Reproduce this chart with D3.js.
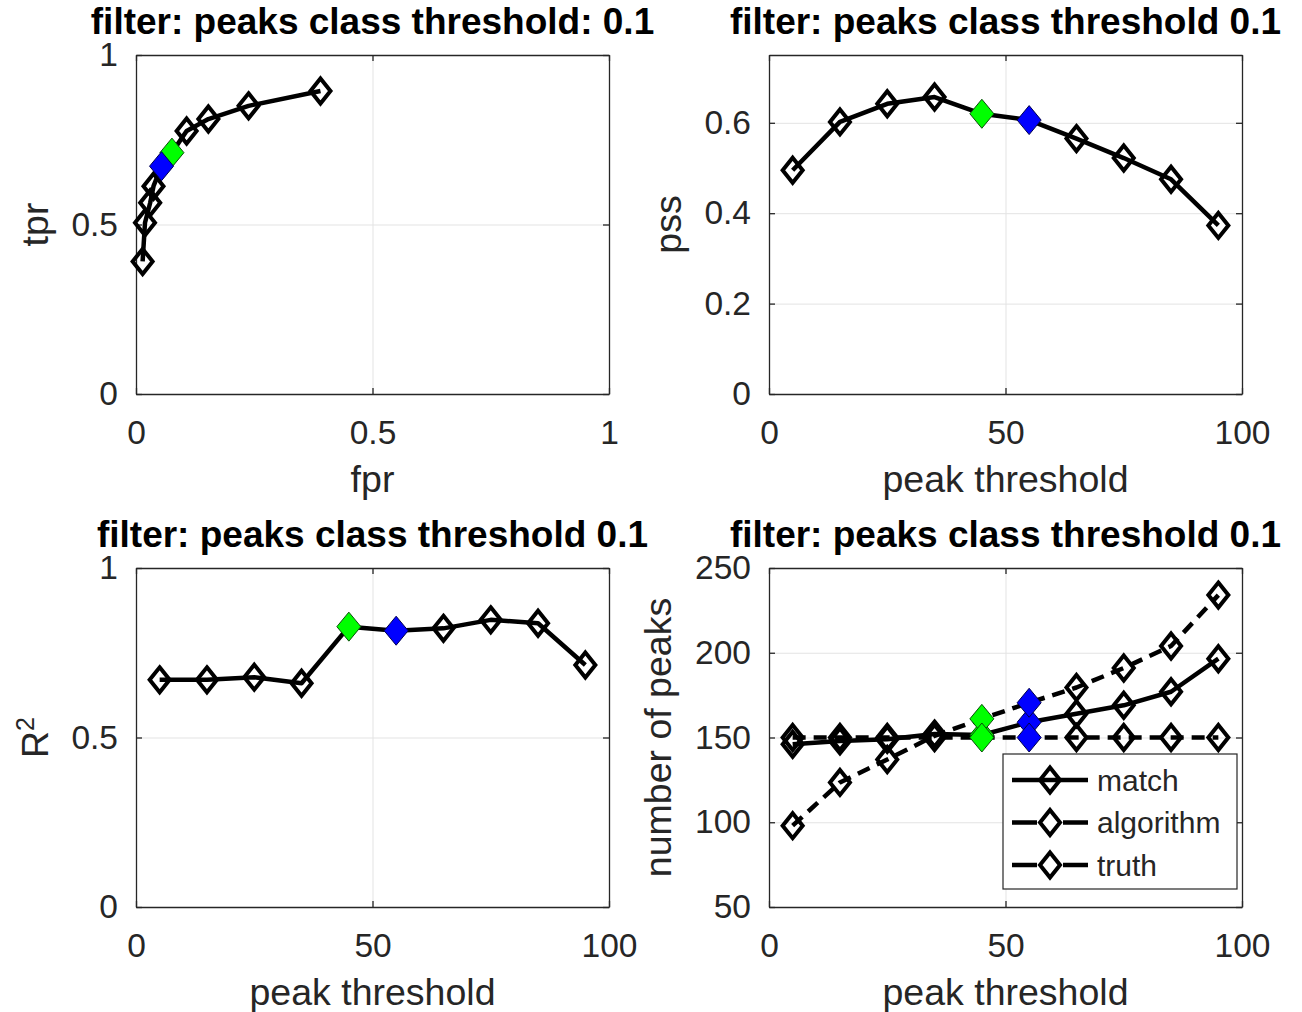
<!DOCTYPE html>
<html>
<head>
<meta charset="utf-8">
<script src="https://cdn.jsdelivr.net/npm/d3@7"></script>
<style>
  body { margin: 0; background: #fff; }
  svg { font-family: "Liberation Sans", Arial, Helvetica, sans-serif; }
</style>
</head>
<body>
<div id="chart"></div>
<script>
// peak thresholds used for every sweep
const thresholds = [5, 15, 25, 35, 45, 55, 65, 75, 85, 95];

// ROC points, one per threshold
const fpr = [0.390, 0.238, 0.153, 0.107, 0.076, 0.054, 0.037, 0.030, 0.019, 0.014];
const tpr = [0.894, 0.850, 0.811, 0.776, 0.712, 0.672, 0.613, 0.564, 0.505, 0.391];

// peirce skill score
const pss = [0.495, 0.602, 0.642, 0.657, 0.620, 0.606, 0.565, 0.522, 0.475, 0.373];

// R^2 of peak values
const r2 = [0.670, 0.670, 0.678, 0.660, 0.827, 0.815, 0.822, 0.847, 0.837, 0.714];

// number of peaks
const matchPeaks = [146, 148, 149, 152, 151.5, 159, 164, 169, 177, 196.5];
const algorithmPeaks = [98, 123.5, 137, 151, 161, 170.5, 179.5, 191, 204, 234];
const truthPeaks = [150, 150, 150, 150, 150, 150, 150, 150, 150, 150];
const peakSeries = ["match", "algorithm", "truth"];

// highlighted thresholds (index into thresholds)
const highlightIdx = [4, 5];

// tick labels
const unitTicks = [0, 0.5, 1];
const thresholdTicks = [0, 50, 100];
const pssTicks = [0, 0.2, 0.4, 0.6];
const peakTicks = [50, 100, 150, 200, 250];

const highlightFill = ["#00ff00", "#0000ff"];
const highlightEdge = ["#0a4d0a", "#00004d"];
const ink = "#262626";
const dash = "13,8";

const svg = d3.select("#chart").append("svg")
  .attr("width", 1302)
  .attr("height", 1012);

function diamond(hw, hh) {
  return `M0,${-hh}L${hw},0L0,${hh}L${-hw},0Z`;
}

function panel(cfg) {
  const w = cfg.w, h = cfg.h;
  const g = svg.append("g").attr("transform", `translate(${cfg.left},${cfg.top})`);
  const x = d3.scaleLinear().domain(cfg.xDomain).range([0, w]);
  const y = d3.scaleLinear().domain(cfg.yDomain).range([h, 0]);

  // grid
  g.append("g")
    .attr("transform", `translate(0,${h})`)
    .call(d3.axisBottom(x).tickValues(cfg.xTicks).tickSize(-h).tickFormat(""))
    .call(s => s.select(".domain").remove())
    .call(s => s.selectAll("line").attr("stroke", "#e3e3e3").attr("stroke-width", 1));
  g.append("g")
    .call(d3.axisLeft(y).tickValues(cfg.yTicks).tickSize(-w).tickFormat(""))
    .call(s => s.select(".domain").remove())
    .call(s => s.selectAll("line").attr("stroke", "#e3e3e3").attr("stroke-width", 1));

  // axes with inward ticks on all four sides
  const styleAxis = s => {
    s.select(".domain").attr("stroke", ink).attr("stroke-width", 1.3);
    s.selectAll(".tick line").attr("stroke", ink).attr("stroke-width", 1.3);
    s.selectAll("text").attr("fill", ink).attr("font-size", 33.5);
  };
  g.append("g")
    .attr("transform", `translate(0,${h})`)
    .call(d3.axisBottom(x).tickValues(cfg.xTicks).tickSizeInner(-6).tickSizeOuter(0)
      .tickPadding(26).tickFormat(d => String(d)))
    .call(styleAxis);
  g.append("g")
    .call(d3.axisTop(x).tickValues(cfg.xTicks).tickSizeInner(-6).tickSizeOuter(0).tickFormat(""))
    .call(styleAxis);
  g.append("g")
    .call(d3.axisLeft(y).tickValues(cfg.yTicks).tickSizeInner(-6).tickSizeOuter(0)
      .tickPadding(18).tickFormat(d => String(d)))
    .call(styleAxis);
  g.append("g")
    .attr("transform", `translate(${w},0)`)
    .call(d3.axisRight(y).tickValues(cfg.yTicks).tickSizeInner(-6).tickSizeOuter(0).tickFormat(""))
    .call(styleAxis);

  // title and labels
  g.append("text")
    .attr("x", w / 2).attr("y", -21)
    .attr("text-anchor", "middle")
    .attr("font-size", 37).attr("font-weight", "bold").attr("fill", "#000")
    .text(cfg.title);
  g.append("text")
    .attr("x", w / 2).attr("y", h + 98)
    .attr("text-anchor", "middle")
    .attr("font-size", 37.5).attr("fill", ink)
    .text(cfg.xLabel);
  const yl = g.append("text")
    .attr("transform", `translate(${-cfg.yLabelGap},${h / 2}) rotate(-90)`)
    .attr("text-anchor", "middle")
    .attr("font-size", 37.5).attr("fill", ink);
  if (cfg.yLabelSup) {
    yl.append("tspan").text(cfg.yLabel);
    yl.append("tspan").attr("baseline-shift", "super").attr("font-size", 25).text(cfg.yLabelSup);
  } else {
    yl.text(cfg.yLabel);
  }

  return { g, x, y };
}

function series(p, xs, ys, dashed) {
  const pts = xs.map((v, i) => [v, ys[i]]);
  const line = d3.line().x(d => p.x(d[0])).y(d => p.y(d[1]));
  p.g.append("path")
    .datum(pts)
    .attr("d", line)
    .attr("fill", "none")
    .attr("stroke", "#000")
    .attr("stroke-width", 4.5)
    .attr("stroke-linejoin", "round")
    .attr("stroke-dasharray", dashed ? dash : null);
  p.g.selectAll(null)
    .data(pts.filter((d, i) => !highlightIdx.includes(i)))
    .join("path")
    .attr("transform", d => `translate(${p.x(d[0])},${p.y(d[1])})`)
    .attr("d", diamond(10, 12.5))
    .attr("fill", "none")
    .attr("stroke", "#000")
    .attr("stroke-width", 4);
  return pts;
}

function highlights(p, pts) {
  highlightIdx.forEach((idx, k) => {
    const d = pts[idx];
    p.g.append("path")
      .attr("transform", `translate(${p.x(d[0])},${p.y(d[1])})`)
      .attr("d", diamond(12, 14.5))
      .attr("fill", highlightFill[k])
      .attr("stroke", highlightEdge[k])
      .attr("stroke-width", 1);
  });
}

// top left: ROC
const roc = panel({
  left: 136, top: 55, w: 473, h: 339,
  xDomain: [0, 1], yDomain: [0, 1], xTicks: unitTicks, yTicks: unitTicks,
  title: "filter: peaks class threshold: 0.1", xLabel: "fpr", yLabel: "tpr", yLabelGap: 88
});
highlights(roc, series(roc, fpr, tpr, false));

// top right: pss
const pssPanel = panel({
  left: 769, top: 55, w: 473, h: 339,
  xDomain: [0, 100], yDomain: [0, 0.75], xTicks: thresholdTicks, yTicks: pssTicks,
  title: "filter: peaks class threshold 0.1", xLabel: "peak threshold", yLabel: "pss", yLabelGap: 88
});
highlights(pssPanel, series(pssPanel, thresholds, pss, false));

// bottom left: R^2
const r2Panel = panel({
  left: 136, top: 568, w: 473, h: 339,
  xDomain: [0, 100], yDomain: [0, 1], xTicks: thresholdTicks, yTicks: unitTicks,
  title: "filter: peaks class threshold 0.1", xLabel: "peak threshold", yLabel: "R", yLabelSup: "2", yLabelGap: 88
});
highlights(r2Panel, series(r2Panel, thresholds, r2, false));

// bottom right: number of peaks
const peaksPanel = panel({
  left: 769, top: 568, w: 473, h: 339,
  xDomain: [0, 100], yDomain: [50, 250], xTicks: thresholdTicks, yTicks: peakTicks,
  title: "filter: peaks class threshold 0.1", xLabel: "peak threshold", yLabel: "number of peaks", yLabelGap: 98
});
const peakData = [matchPeaks, algorithmPeaks, truthPeaks];
const peakPts = peakData.map((vals, i) => series(peaksPanel, thresholds, vals, i > 0));
peakPts.forEach(pts => highlights(peaksPanel, pts));

// legend
const lg = peaksPanel.g.append("g").attr("transform", "translate(234,186)");
lg.append("rect")
  .attr("width", 234).attr("height", 135)
  .attr("fill", "#fff").attr("stroke", ink).attr("stroke-width", 1.2);
peakSeries.forEach((name, i) => {
  const row = lg.append("g").attr("transform", `translate(0,${26 + i * 42.5})`);
  row.append("line")
    .attr("x1", 9).attr("x2", 85)
    .attr("stroke", "#000").attr("stroke-width", 4.5)
    .attr("stroke-dasharray", i > 0 ? "25,26,25" : null);
  row.append("path")
    .attr("transform", "translate(47,0)")
    .attr("d", diamond(10, 12.5))
    .attr("fill", "none").attr("stroke", "#000").attr("stroke-width", 4);
  row.append("text")
    .attr("x", 94).attr("dy", "0.35em")
    .attr("font-size", 30).attr("fill", ink)
    .text(name);
});
</script>
</body>
</html>
